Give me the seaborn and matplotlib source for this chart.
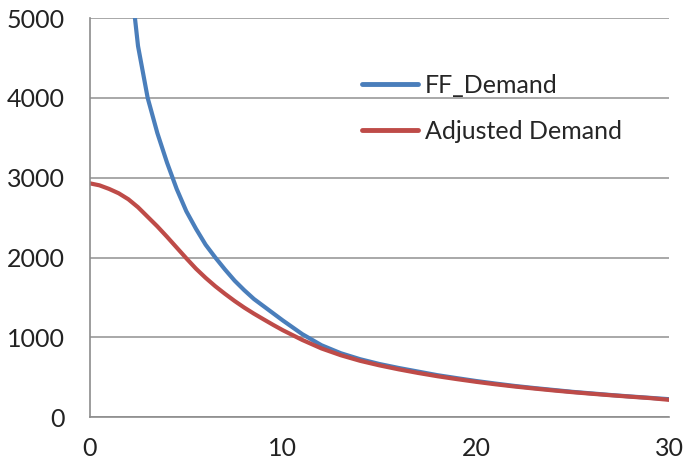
import numpy as np
import pandas as pd
import matplotlib
matplotlib.use("Agg")
import matplotlib.pyplot as plt
import seaborn as sns

# 数据
ff_x = [2, 2.5, 3, 3.5, 4, 4.5, 5, 5.5, 6, 6.5, 7, 7.5, 8, 8.5, 9, 9.5, 10,
        11, 12, 13, 14, 15, 16, 17, 18, 19, 20, 21, 22, 23, 24, 25, 26, 27,
        28, 29, 30]
ff_demand = [5750, 4650, 4000, 3560, 3190, 2860, 2580, 2360, 2160, 2000, 1850,
             1710, 1590, 1480, 1390, 1300, 1210, 1040, 900, 800, 725, 665, 615,
             570, 525, 488, 452, 420, 390, 364, 340, 316, 296, 276, 258, 241, 224]

adj_x = [0, 0.5, 1, 1.5, 2, 2.5, 3, 3.5, 4, 4.5, 5, 5.5, 6, 6.5, 7, 7.5, 8,
         8.5, 9, 9.5, 10, 11, 12, 13, 14, 15, 16, 17, 18, 19, 20, 21, 22, 23,
         24, 25, 26, 27, 28, 29, 30]
adj_demand = [2930, 2905, 2860, 2805, 2730, 2630, 2510, 2390, 2260, 2125, 1990,
              1860, 1745, 1640, 1545, 1455, 1372, 1296, 1225, 1155, 1088, 967,
              860, 775, 705, 648, 598, 553, 512, 476, 442, 411, 383, 358, 334,
              312, 292, 273, 255, 238, 216]

series_names = ["FF_Demand", "Adjusted Demand"]
colors = ["#4A7EBB", "#BE4B48"]

df = pd.concat([
    pd.DataFrame({"x": ff_x, "y": ff_demand, "series": series_names[0]}),
    pd.DataFrame({"x": adj_x, "y": adj_demand, "series": series_names[1]}),
])

sns.set_style("white")
plt.rcParams['font.family'] = ['Lato', 'DejaVu Sans']

fig = plt.figure(figsize=(6.85, 4.66), dpi=100)
ax = fig.add_axes([0.131, 0.105, 0.846, 0.856])

sns.lineplot(data=df, x="x", y="y", hue="series", hue_order=series_names,
             palette=colors, linewidth=3, ax=ax, sort=True)

ax.set_xlim(0, 30)
ax.set_ylim(0, 5000)
ax.set_xticks([0, 10, 20, 30])
ax.set_yticks([0, 1000, 2000, 3000, 4000, 5000])
ax.set_xlabel("")
ax.set_ylabel("")
ax.grid(axis="y", color="#999999", linewidth=1.2)
ax.set_axisbelow(True)
for side in ["top", "right"]:
    ax.spines[side].set_visible(False)
for side in ["left", "bottom"]:
    ax.spines[side].set_color("#8c8c8c")
    ax.spines[side].set_linewidth(1.2)
ax.tick_params(axis="both", labelsize=18, colors="#8c8c8c", labelcolor="#222222",
               length=6, width=1.2, direction="out")
ax.tick_params(axis="x", pad=8)
ax.tick_params(axis="y", pad=12)

leg = ax.legend(loc="upper left", bbox_to_anchor=(0.452, 0.885), frameon=False,
                fontsize=18, handlelength=2.24, handletextpad=0.3,
                labelspacing=0.92, borderaxespad=0)
for line in leg.get_lines():
    line.set_linewidth(3.5)

fig.savefig("out.png", dpi=100)
